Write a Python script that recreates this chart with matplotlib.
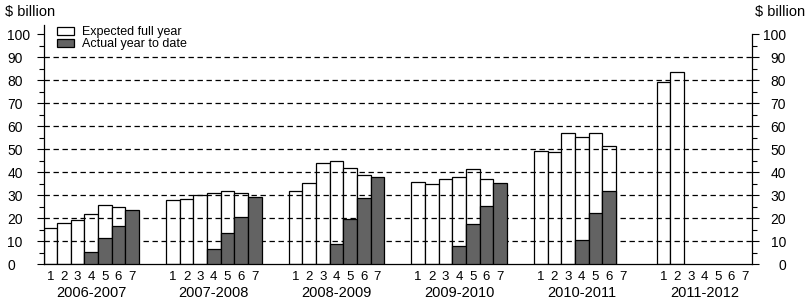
import matplotlib.pyplot as plt
import numpy as np
from matplotlib.patches import Patch

plt.rcParams["font.family"] = ["Liberation Sans", "DejaVu Sans"]

nan = np.nan

years = ["2006-2007", "2007-2008", "2008-2009", "2009-2010", "2010-2011", "2011-2012"]
bar_labels = ["1", "2", "3", "4", "5", "6", "7"]

# expected full year ($ billion), one list per financial year
exp_0607 = [15.8, 17.7, 19.1, 21.9, 25.5, 24.6, nan]
exp_0708 = [27.7, 28.1, 30.0, 30.9, 31.9, 31.0, nan]
exp_0809 = [31.7, 35.4, 43.8, 44.9, 41.7, 38.6, nan]
exp_0910 = [35.5, 34.8, 37.0, 37.7, 41.2, 37.2, nan]
exp_1011 = [49.3, 48.8, 56.8, 55.1, 57.0, 51.4, nan]
exp_1112 = [79.1, 83.6, nan, nan, nan, nan, nan]

# actual year to date ($ billion)
act_0607 = [nan, nan, nan, 5.1, 11.3, 16.5, 23.6]
act_0708 = [nan, nan, nan, 6.4, 13.6, 20.3, 29.3]
act_0809 = [nan, nan, nan, 8.6, 19.7, 28.7, 38.0]
act_0910 = [nan, nan, nan, 7.8, 17.2, 25.4, 35.2]
act_1011 = [nan, nan, nan, 10.3, 22.0, 31.9, nan]
act_1112 = [nan, nan, nan, nan, nan, nan, nan]

expected = np.array([exp_0607, exp_0708, exp_0809, exp_0910, exp_1011, exp_1112])
actual = np.array([act_0607, act_0708, act_0809, act_0910, act_1011, act_1112])

DARK = "#636363"
n_groups, n_bars = expected.shape
slot = n_bars + 2  # two empty bar widths between years
x = (np.arange(n_groups)[:, None] * slot + np.arange(n_bars)[None, :] + 0.5).ravel()
group_centers = np.arange(n_groups) * slot + n_bars / 2

W, H = 806, 305
fig = plt.figure(figsize=(W / 100, H / 100), dpi=100)
ax = fig.add_axes([43.5 / W, 41 / H, (752 - 43.5) / W, 239 / H])
ax.set_xlim(0, (n_groups - 1) * slot + n_bars)
ax.set_ylim(0, 104)

ax.bar(x, expected.ravel(), width=1, color="white", edgecolor="black",
       linewidth=0.9, zorder=1)
ax.hlines(np.arange(10, 100, 10), *ax.get_xlim(), colors="black",
          linewidth=0.9, linestyles=(0, (4.3, 2.9)), zorder=2)
ax.bar(x, actual.ravel(), width=1, color=DARK, edgecolor="black",
       linewidth=0.9, zorder=3)

# y axes, left and right
yt = np.arange(0, 101, 10)
ax.set_yticks(yt)
ax.set_yticks(np.arange(5, 100, 10), minor=True)
ax.tick_params(axis="y", which="major", length=5, width=0.8, labelsize=10, pad=21)
ax.tick_params(axis="y", which="minor", length=3.5, width=0.8)
for lab in ax.get_yticklabels():
    lab.set_horizontalalignment("left")

ax2 = ax.twinx()
ax2.set_ylim(ax.get_ylim())
ax2.set_yticks(yt)
ax2.set_yticks(np.arange(5, 100, 10), minor=True)
ax2.tick_params(axis="y", which="major", length=5, width=0.8, labelsize=10, pad=19.5)
ax2.tick_params(axis="y", which="minor", length=3.5, width=0.8)
for lab in ax2.get_yticklabels():
    lab.set_horizontalalignment("right")

for s in ("top", "right"):
    ax.spines[s].set_visible(False)
for s in ("top", "left", "bottom"):
    ax2.spines[s].set_visible(False)
ax2.spines["right"].set_bounds(0, 100)
for a in (ax, ax2):
    for s in a.spines.values():
        s.set_linewidth(0.9)

# x axis: bar numbers and year labels
ax.xaxis.remove_overlapping_locs = False
ax.set_xticks(x)
ax.set_xticklabels(bar_labels * n_groups)
ax.set_xticks(group_centers, minor=True)
ax.set_xticklabels(years, minor=True)
ax.tick_params(axis="x", which="major", length=0, labelsize=9.5, pad=5)
ax.tick_params(axis="x", which="minor", length=0, labelsize=10.5, pad=15.5)

fig.text(5 / W, 1 - 12 / H, "$ billion", fontsize=10.5, va="center", ha="left")
fig.text(805 / W, 1 - 12 / H, "$ billion", fontsize=10.5, va="center", ha="right")

handles = [Patch(facecolor="white", edgecolor="black", linewidth=0.9),
           Patch(facecolor=DARK, edgecolor="black", linewidth=0.9)]
ax.legend(handles, ["Expected full year", "Actual year to date"],
          loc="upper left", bbox_to_anchor=(0.019, 0.995), fontsize=9,
          frameon=False, handlelength=1.4, handleheight=0.6,
          labelspacing=0.0, handletextpad=0.6, borderpad=0, borderaxespad=0)

fig.savefig("out.png", dpi=100)
